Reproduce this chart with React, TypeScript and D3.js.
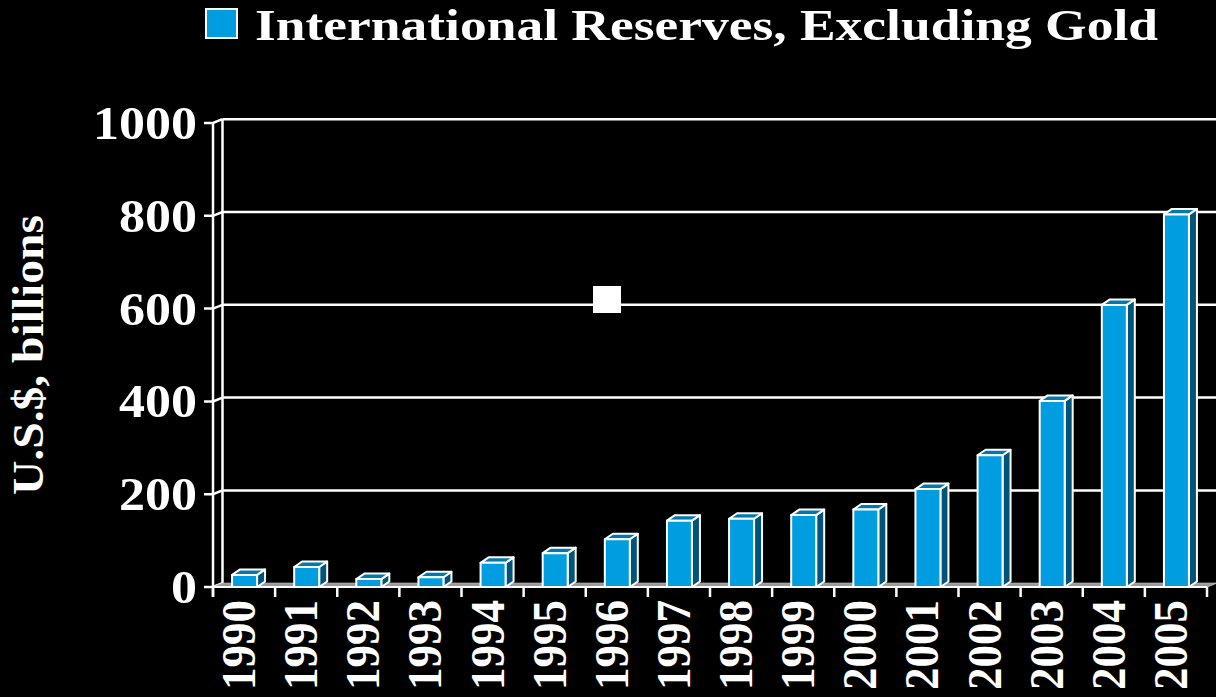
import React from "react";
import * as d3 from "d3";

const years = ["1990","1991","1992","1993","1994","1995","1996","1997","1998","1999","2000","2001","2002","2003","2004","2005"];
const reserves = [26, 43, 17, 21, 52, 73, 103, 143, 147, 155, 167, 211, 284, 401, 608, 803];
const yTicks = [0, 200, 400, 600, 800, 1000];
const seriesName = "International Reserves, Excluding Gold";
const yTitle = "U.S.$, billions";

const W = 1216, H = 697;
const FONT = "'Liberation Serif', 'Times New Roman', serif";
const WALL_DX = 9.5, WALL_DY = -3.8;
const BAR_DX = 8, BAR_DY = -5.5;
const FRONT = "#009EE0", SIDE = "#00547A", TOP = "#0079AE";

export default function App() {
  const x = d3.scaleBand<string>().domain(years).range([213, 1207]).paddingInner(0).paddingOuter(0);
  const y = d3.scaleLinear().domain([0, 1000]).range([587, 123]);
  const bw = 25;
  const x0 = 213, x1 = 1207;
  return (
    <svg width={W} height={H} style={{ display: "block", position: "absolute", left: 0, top: 0, background: "#000" }}>
      <rect x={0} y={0} width={W} height={H} fill="#000" />
      {/* legend */}
      <rect x={206} y={9} width={31} height={29} fill={FRONT} stroke="#fff" strokeWidth={2} />
      <text x={255} y={40} fill="#fff" fontFamily={FONT} fontWeight="bold" fontSize={44} textLength={903} lengthAdjust="spacingAndGlyphs">{seriesName}</text>

      {/* back wall gridlines */}
      {yTicks.map((t) => {
        const label = String(t);
        return (
          <g key={t}>
            {t > 0 && (
              <line x1={x0 + WALL_DX} x2={W + 2} y1={y(t) + WALL_DY} y2={y(t) + WALL_DY} stroke="#fff" strokeWidth={2.5} />
            )}
            <polyline points={`${x0 - 9},${y(t)} ${x0},${y(t)} ${x0 + WALL_DX},${y(t) + WALL_DY}`} fill="none" stroke="#fff" strokeWidth={2.5} />
            <text x={197} y={y(t) + 16} textAnchor="end" fill="#fff" fontFamily={FONT} fontWeight="bold" fontSize={47} textLength={26 * label.length} lengthAdjust="spacingAndGlyphs">{label}</text>
          </g>
        );
      })}
      <line x1={x0 + WALL_DX} x2={x0 + WALL_DX} y1={y(1000) + WALL_DY} y2={y(0) + WALL_DY} stroke="#fff" strokeWidth={2.5} />
      <line x1={x0} x2={x0} y1={y(1000)} y2={y(0) + 10} stroke="#fff" strokeWidth={2.5} />

      {/* floor */}
      <polygon points={`${x0},${y(0)} ${x1},${y(0)} ${x1 + WALL_DX},${y(0) + WALL_DY} ${x0 + WALL_DX},${y(0) + WALL_DY}`} fill="#9a9a9a" stroke="#bbb" strokeWidth={1} />
      <line x1={x0} x2={x1} y1={y(0)} y2={y(0)} stroke="#fff" strokeWidth={2} />

      {/* x ticks */}
      {years.map((yr) => (
        <line key={yr} x1={x(yr)!} x2={x(yr)!} y1={y(0)} y2={y(0) + 10} stroke="#fff" strokeWidth={2.5} />
      ))}
      <line x1={x1} x2={x1} y1={y(0)} y2={y(0) + 10} stroke="#fff" strokeWidth={2.5} />

      {/* bars */}
      {years.map((yr, i) => {
        const cx = x(yr)! + x.bandwidth() / 2 + 0.5;
        const l = cx - bw / 2, r = cx + bw / 2;
        const top = y(reserves[i]);
        const bot = y(0);
        return (
          <g key={yr} stroke="#fff" strokeWidth={2} strokeLinejoin="round">
            <polygon points={`${r},${top} ${r + BAR_DX},${top + BAR_DY} ${r + BAR_DX},${bot + BAR_DY} ${r},${bot}`} fill={SIDE} />
            <polygon points={`${l},${top} ${l + BAR_DX},${top + BAR_DY} ${r + BAR_DX},${top + BAR_DY} ${r},${top}`} fill={TOP} />
            <rect x={l} y={top} width={bw} height={bot - top} fill={FRONT} />
          </g>
        );
      })}

      {/* x labels */}
      {years.map((yr) => (
        <text key={yr} transform={`translate(${x(yr)! + x.bandwidth() / 2 + 11},${600}) rotate(-90)`} textAnchor="end" fill="#fff" fontFamily={FONT} fontWeight="bold" fontSize={48} textLength={90} lengthAdjust="spacingAndGlyphs">{yr}</text>
      ))}

      {/* y title */}
      <text transform={`translate(43,355) rotate(-90)`} textAnchor="middle" fill="#fff" fontFamily={FONT} fontWeight="bold" fontSize={45} textLength={280} lengthAdjust="spacingAndGlyphs">{yTitle}</text>

      {/* stray marker */}
      <rect x={593} y={286} width={28} height={27} fill="#fff" />
    </svg>
  );
}
